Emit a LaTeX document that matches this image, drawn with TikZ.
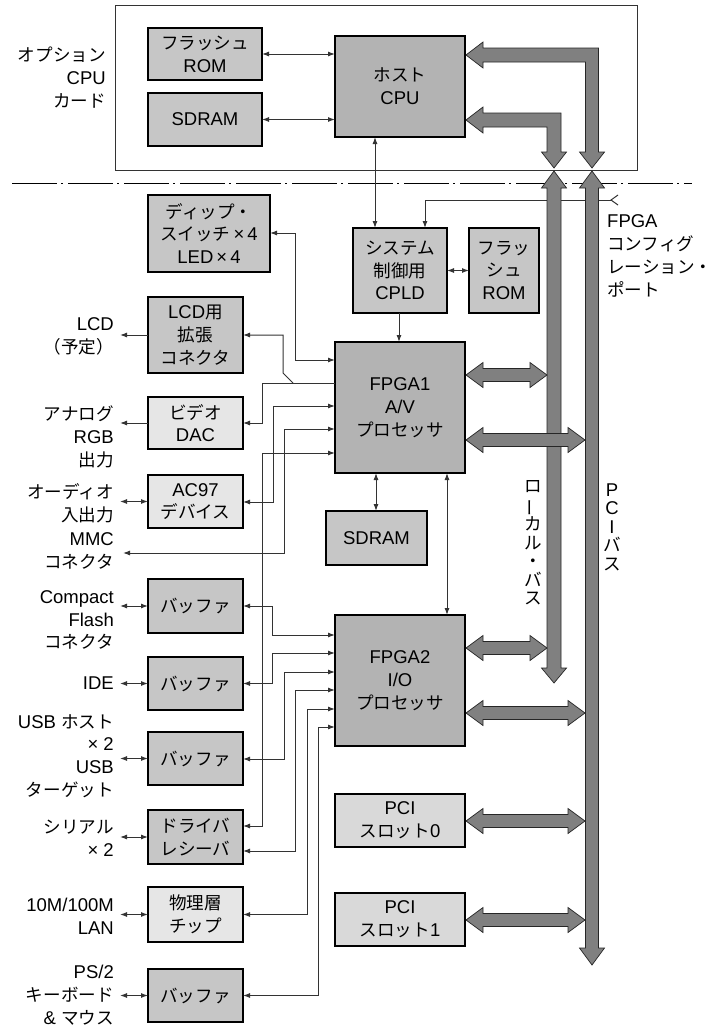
\documentclass[tikz,border=0pt]{standalone}
\usepackage{fontspec}
\usepackage{graphicx}
\setmainfont{Liberation Sans}
\newfontfamily\jpfont{Noto Sans CJK JP}[Scale=0.95]
\newcommand\J[1]{{\jpfont #1}}
\newcommand\fs{\fontsize{18.5}{22.8}\selectfont}
\newcommand\vfs{\fontsize{18.5}{18.5}\selectfont}
\usetikzlibrary{arrows.meta}
\definecolor{cdark}{HTML}{B3B3B3}
\definecolor{cmid}{HTML}{C6C6C6}
\definecolor{clight}{HTML}{E6E6E6}
\definecolor{cpci}{HTML}{D9D9D9}
\definecolor{cbus}{HTML}{808080}
\definecolor{cwire}{HTML}{333333}
\tikzset{
  blk/.style={draw=black, line width=1.6pt, inner sep=0pt, outer sep=0pt, align=center, font=\fs},
  dk/.style={blk, fill=cdark},
  md/.style={blk, fill=cmid},
  lt/.style={blk, fill=clight},
  pc/.style={blk, fill=cpci},
  wire/.style={draw=cwire, line width=1pt},
  arr/.style={wire, -{Latex[length=7pt,width=5pt]}},
  darr/.style={wire, {Latex[length=7pt,width=5pt]}-{Latex[length=7pt,width=5pt]}},
  lbl/.style={align=right, anchor=east, font=\fs, inner sep=0pt},
  rlbl/.style={align=left, anchor=west, font=\fs, inner sep=0pt},
  vlbl/.style={align=center, font=\vfs, inner sep=0pt},
  bus/.style={fill=cbus, draw=black!85, line width=0.7pt, line join=miter},
}
\newcommand\hbus[3]{%
  \draw[bus] (#1,#3) -- ({#1+17},{#3-12.5}) -- ({#1+17},{#3-6.5}) -- ({#2-17},{#3-6.5}) -- ({#2-17},{#3-12.5}) -- (#2,#3) -- ({#2-17},{#3+12.5}) -- ({#2-17},{#3+6.5}) -- ({#1+17},{#3+6.5}) -- ({#1+17},{#3+12.5}) -- cycle;}
\begin{document}
\begin{tikzpicture}[x=1pt,y=-1pt]
\useasboundingbox (0,0) rectangle (712,1026);
\fill[white] (0,0) rectangle (712,1026);

% option card frame and separator
\draw[line width=0.8pt, draw=black!80] (115,5) rectangle (637,170);
\draw[line width=0.8pt, dash pattern=on 45pt off 4pt on 2pt off 5pt] (12,183) -- (692,183);

% blocks
\node[md, minimum width=114pt, minimum height=52pt] (rom1) at (205,54) {\J{フラッシュ}\\ROM};
\node[md, minimum width=114pt, minimum height=53pt] (sdram1) at (205,119.5) {SDRAM};
\node[dk, minimum width=130pt, minimum height=101pt] (cpu) at (400,86.5) {\J{ホスト}\\CPU};
\node[md, minimum width=94pt, minimum height=85pt] (cpld) at (400,270.5) {\J{システム}\\\J{制御用}\\CPLD};
\node[md, minimum width=70pt, minimum height=85pt] (rom2) at (504,270.5) {\J{フラッ}\\\J{シュ}\\ROM};
\node[md, minimum width=122pt, minimum height=77pt] (dip) at (209,233.5) {\J{ディップ・}\\\J{スイッチ}\,×\,4\\LED\,×\,4};
\node[md, minimum width=95pt, minimum height=76pt] (lcd) at (195.5,335) {LCD\J{用}\\\J{拡張}\\\J{コネクタ}};
\node[lt, minimum width=95pt, minimum height=52pt] (dac) at (195.5,423) {\J{ビデオ}\\DAC};
\node[lt, minimum width=95pt, minimum height=53pt] (ac97) at (195.5,501.5) {AC97\\\J{デバイス}};
\node[dk, minimum width=130pt, minimum height=131pt] (fpga1) at (400,407.5) {FPGA1\\A/V\\\J{プロセッサ}};
\node[md, minimum width=101pt, minimum height=54pt] (sdram2) at (376.5,538) {SDRAM};
\node[md, minimum width=95pt, minimum height=54pt] (buf1) at (195.5,606) {\J{バッファ}};
\node[md, minimum width=95pt, minimum height=53pt] (buf2) at (195.5,683.5) {\J{バッファ}};
\node[md, minimum width=95pt, minimum height=53pt] (buf3) at (195.5,758.5) {\J{バッファ}};
\node[md, minimum width=95pt, minimum height=54pt] (drv) at (195.5,837) {\J{ドライバ}\\\J{レシーバ}};
\node[lt, minimum width=95pt, minimum height=55pt] (phy) at (195.5,914.5) {\J{物理層}\\\J{チップ}};
\node[md, minimum width=95pt, minimum height=53pt] (buf4) at (195.5,995.5) {\J{バッファ}};
\node[dk, minimum width=130pt, minimum height=131pt] (fpga2) at (400,680.5) {FPGA2\\I/O\\\J{プロセッサ}};
\node[pc, minimum width=130pt, minimum height=53pt] (pci0) at (400,820.5) {PCI\\\J{スロット}0};
\node[pc, minimum width=130pt, minimum height=53pt] (pci1) at (400,919.5) {PCI\\\J{スロット}1};

% labels
\node[lbl] (lopt) at (106,77.5) {\J{オプション}\\CPU\\\J{カード}};
\node[lbl] (llcd) at (114,336) {LCD\\\J{（予定）}};
\node[lbl] (lrgb) at (114,437) {\J{アナログ}\\RGB\\\J{出力}};
\node[lbl] (laud) at (114,503.5) {\J{オーディオ}\\\J{入出力}};
\node[lbl] (lmmc) at (114,551) {MMC\\\J{コネクタ}};
\node[lbl] (lcf) at (114,620) {Compact\\Flash\\\J{コネクタ}};
\node[lbl] (lide) at (114,683.5) {IDE};
\node[lbl] (lusb) at (114,756) {USB \J{ホスト}\\× 2\\USB\\\J{ターゲット}};
\node[lbl] (lser) at (114,838.5) {\J{シリアル}\\× 2};
\node[lbl] (llan) at (114,916.5) {10M/100M\\LAN};
\node[lbl] (lps2) at (114,995) {PS/2\\\J{キーボード}\\\& \J{マウス}};
\node[rlbl] (lcfg) at (607,256) {FPGA\\\J{コンフィグ}\\\J{レーション・}\\\J{ポート}};
\node[vlbl] (llocal) at (533,543) {\J{ロ}\\\J{\rotatebox[origin=c]{90}{ー}}\\\J{カ}\\\J{ル}\\\J{・}\\\J{バ}\\\J{ス}};
\node[vlbl] (lpci) at (612,527) {P\\C\\I\\\J{バ}\\\J{ス}};

% free ends
\coordinate (lcdo) at (120,335);
\coordinate (rgbo) at (120,423);
\coordinate (audo) at (120,501.5);
\coordinate (mmco) at (123,553);
\coordinate (cfo) at (120,606);
\coordinate (ideo) at (120,683.5);
\coordinate (usbo) at (120,758.5);
\coordinate (sero) at (120,837);
\coordinate (lano) at (120,914.5);
\coordinate (ps2o) at (120,995.5);
\coordinate (cfgin) at (611,200);

% thin connectors
\draw[darr] (rom1.east) -- (rom1.east -| cpu.west);
\draw[darr] (sdram1.east) -- (sdram1.east -| cpu.west);
\draw[darr] (cpu.south -| 375,0) -- (375,0 |- cpld.north);
\draw[darr] (cpld.east) -- (rom2.west);
\draw[arr] (cpld.south -| 399,0) -- (399,0 |- fpga1.north);
\draw[arr] (cfgin) -- (425,200) -- (425,0 |- cpld.north);
\draw[wire] (618,195) -- (cfgin) -- (618,205);
\draw[darr] (fpga1.south -| 447,0) -- (447,0 |- fpga2.north);
\draw[darr] (fpga1.south -| 376,0) -- (376,0 |- sdram2.north);

\draw[darr] (dip.east |- 0,233) -- (295,233) -- (295,360) -- (fpga1.west |- 0,360);
\draw[arr] (fpga1.west |- 0,383) -- (262,383) -- (262,423) -- (dac.east |- 0,423);
\draw[arr] (293,383) -- (283,373) -- (283,335) -- (lcd.east |- 0,335);
\draw[darr] (fpga1.west |- 0,406) -- (273,406) -- (273,502) -- (ac97.east |- 0,502);
\draw[darr] (fpga1.west |- 0,429) -- (284,429) -- (284,553) -- (mmco);
\draw[darr] (fpga1.west |- 0,453) -- (262,453) -- (262,826) -- (drv.east |- 0,826);

\draw[darr] (fpga2.west |- 0,635) -- (272,635) -- (272,606) -- (buf1.east |- 0,606);
\draw[darr] (fpga2.west |- 0,653) -- (272,653) -- (272,683.5) -- (buf2.east |- 0,683.5);
\draw[darr] (fpga2.west |- 0,672) -- (284,672) -- (284,759) -- (buf3.east |- 0,759);
\draw[darr] (fpga2.west |- 0,690) -- (295,690) -- (295,851) -- (drv.east |- 0,851);
\draw[darr] (fpga2.west |- 0,709) -- (307,709) -- (307,914.5) -- (phy.east |- 0,914.5);
\draw[darr] (fpga2.west |- 0,727) -- (318,727) -- (318,995.5) -- (buf4.east |- 0,995.5);

\draw[arr] (lcd.west) -- (lcdo);
\draw[arr] (dac.west) -- (rgbo);
\draw[darr] (ac97.west) -- (audo);
\draw[darr] (buf1.west) -- (cfo);
\draw[darr] (buf2.west) -- (ideo);
\draw[darr] (buf3.west) -- (usbo);
\draw[darr] (drv.west) -- (sero);
\draw[darr] (phy.west) -- (lano);
\draw[darr] (buf4.west) -- (ps2o);

% CPU buses
\draw[bus] (466,55) -- (483,42) -- (483,48) -- (598.5,48) -- (598.5,152) -- (604.5,152) -- (592,168) -- (579.5,152) -- (585.5,152) -- (585.5,62) -- (483,62) -- (483,68) -- cycle;
\draw[bus] (466,120) -- (483,107) -- (483,113) -- (561,113) -- (561,152) -- (566.5,152) -- (554,168) -- (541.5,152) -- (547,152) -- (547,127) -- (483,127) -- (483,133) -- cycle;
% local bus
\draw[bus] (554,171) -- (566.5,188) -- (561,188) -- (561,668) -- (566.5,668) -- (554,683) -- (541.5,668) -- (547,668) -- (547,188) -- (541.5,188) -- cycle;
% PCI bus
\draw[bus] (592,171) -- (604.5,188) -- (598.5,188) -- (598.5,948) -- (604.5,948) -- (592,965) -- (579.5,948) -- (585.5,948) -- (585.5,188) -- (579.5,188) -- cycle;

% bus taps
\hbus{466}{547}{375}
\hbus{466}{585}{440}
\hbus{466}{547}{648}
\hbus{466}{585}{713}
\hbus{466}{585}{821}
\hbus{466}{585}{920}
\end{tikzpicture}
\end{document}
